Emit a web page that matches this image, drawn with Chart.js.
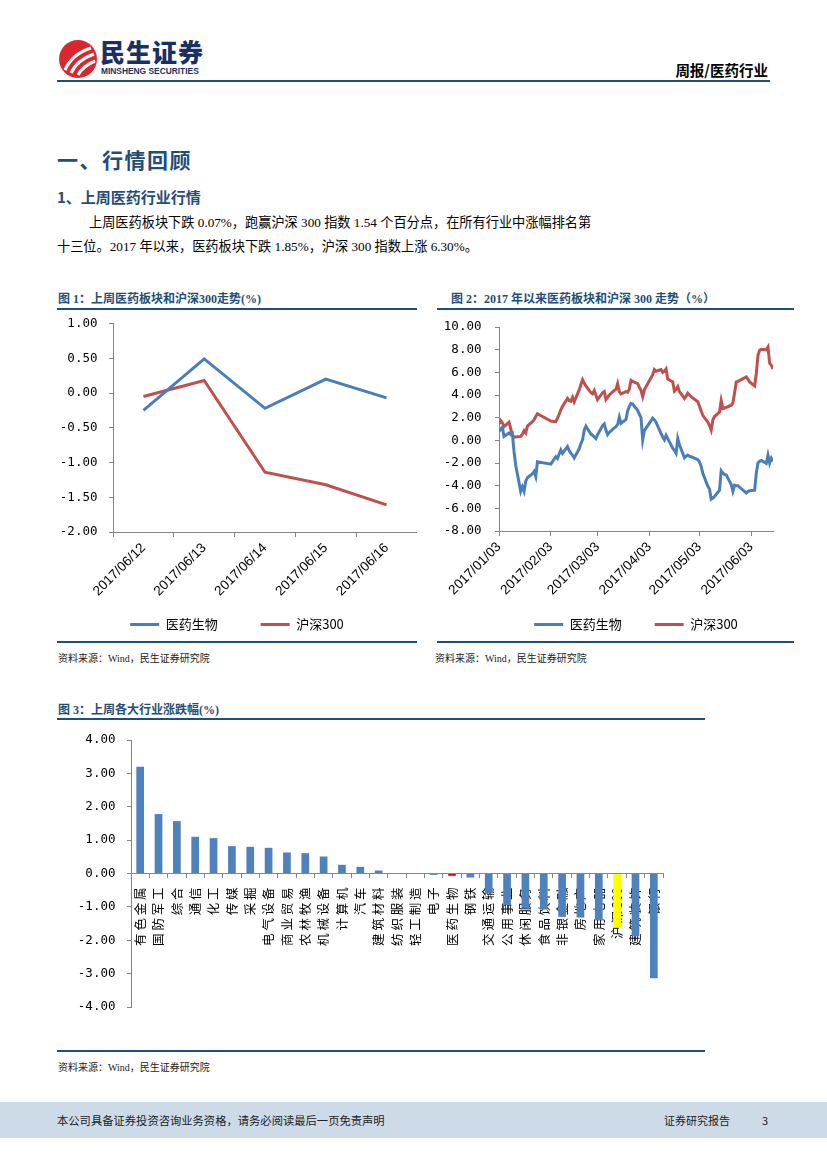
<!DOCTYPE html>
<html>
<head>
<meta charset="utf-8">
<script src="https://cdn.jsdelivr.net/npm/chart.js@4.4.1/dist/chart.umd.min.js"></script>
<style>
body { margin: 0; background: #fff; }
#page { position: relative; width: 827px; height: 1169px; overflow: hidden; background: #fff;
  font-family: 'Liberation Serif', 'Noto Sans CJK SC', serif; color: #000; }
.a { position: absolute; white-space: nowrap; }
.rule { position: absolute; background: #1f4e79; height: 1.5px; }
.ttl { font-size: 12px; font-weight: bold; color: #1f4e79; line-height: 14px; }
.src { font-size: 10px; color: #222; line-height: 12px; }
canvas { position: absolute; }
</style>
</head>
<body>
<div id="page">
  <!-- header -->
  <svg class="a" style="left:58px;top:39px" width="40" height="40" viewBox="0 0 40 40">
    <circle cx="20" cy="20" r="19" fill="#d7282f"/>
    <path d="M7 31 Q14 15 33 9" stroke="#fff" stroke-width="3.2" fill="none"/>
    <path d="M13 34 Q19 21 36 15" stroke="#fff" stroke-width="3.2" fill="none"/>
    <path d="M20 36 Q25 27 37 22" stroke="#fff" stroke-width="3" fill="none"/>
  </svg>
  <div class="a" style="left:100px;top:36px;font:900 25px 'Noto Sans CJK SC';letter-spacing:1px;color:#1b2f63;line-height:30px">民生证券</div>
  <div class="a" style="left:101px;top:66px;font:bold 8.4px 'Liberation Sans';color:#1b2f63;line-height:10px">MINSHENG SECURITIES</div>
  <div class="a" style="right:59px;top:61px;font:bold 14.5px 'Noto Sans CJK SC';line-height:18px">周报/医药行业</div>
  <div class="rule" style="left:57px;top:80px;width:713px;height:2px"></div>

  <!-- text -->
  <div class="a" style="left:57px;top:145px;font:bold 21px 'Noto Sans CJK SC';letter-spacing:1.5px;color:#1f4e79;line-height:28px">一、行情回顾</div>
  <div class="a" style="left:57px;top:187px;font:bold 15px 'Noto Sans CJK SC';color:#1f4e79;line-height:20px">1、上周医药行业行情</div>
  <div class="a" style="left:89px;top:214px;font-size:13.2px;line-height:18px">上周医药板块下跌 0.07%，跑赢沪深 300 指数 1.54 个百分点，在所有行业中涨幅排名第</div>
  <div class="a" style="left:57px;top:238px;font-size:13.2px;line-height:18px">十三位。2017 年以来，医药板块下跌 1.85%，沪深 300 指数上涨 6.30%。</div>

  <!-- chart 1 frame -->
  <div class="a ttl" style="left:58px;top:292px">图 1：上周医药板块和沪深300走势(%)</div>
  <div class="rule" style="left:57px;top:308px;width:360px"></div>
  <canvas id="c1" width="360" height="329" style="left:57px;top:312px"></canvas>
  <div class="rule" style="left:57px;top:641px;width:360px"></div>
  <div class="a src" style="left:58px;top:653px">资料来源：Wind，民生证券研究院</div>

  <!-- chart 2 frame -->
  <div class="a ttl" style="left:451px;top:292px">图 2：2017 年以来医药板块和沪深 300 走势（%）</div>
  <div class="rule" style="left:437px;top:308px;width:357px"></div>
  <canvas id="c2" width="357" height="329" style="left:437px;top:312px"></canvas>
  <div class="rule" style="left:437px;top:641px;width:357px"></div>
  <div class="a src" style="left:435px;top:653px">资料来源：Wind，民生证券研究院</div>

  <!-- chart 3 frame -->
  <div class="a ttl" style="left:58px;top:703px">图 3：上周各大行业涨跌幅(%)</div>
  <div class="rule" style="left:57px;top:718px;width:648px"></div>
  <canvas id="c3" width="648" height="326" style="left:57px;top:722px"></canvas>
  <div class="rule" style="left:57px;top:1050px;width:648px"></div>
  <div class="a src" style="left:58px;top:1062px">资料来源：Wind，民生证券研究院</div>

  <!-- footer -->
  <div class="a" style="left:0;top:1102px;width:827px;height:36px;background:#cddbe9"></div>
  <div class="a" style="left:57px;top:1112px;font:11.3px 'Noto Sans CJK SC';color:#222;line-height:16px">本公司具备证券投资咨询业务资格，请务必阅读最后一页免责声明</div>
  <div class="a" style="left:664px;top:1112px;font:11px 'Noto Sans CJK SC';color:#222;line-height:16px">证券研究报告</div>
  <div class="a" style="left:762px;top:1112px;font:11px 'Noto Sans CJK SC';color:#222;line-height:16px">3</div>
</div>

<script>
// chart 1: last week
const weekDays = ['2017/06/12', '2017/06/13', '2017/06/14', '2017/06/15', '2017/06/16'];
const weekPharma = [-0.25, 0.49, -0.22, 0.20, -0.07];
const weekHs300 = [-0.05, 0.18, -1.14, -1.32, -1.61];

// chart 2: since 2017/01/03 (trading days)
const ytdDates = [
  '2017/01/03','2017/01/04','2017/01/05','2017/01/06','2017/01/09','2017/01/10','2017/01/11','2017/01/12','2017/01/13',
  '2017/01/16','2017/01/17','2017/01/18','2017/01/19','2017/01/20','2017/01/23','2017/01/24','2017/01/25','2017/01/26',
  '2017/02/03','2017/02/06','2017/02/07','2017/02/08','2017/02/09','2017/02/10','2017/02/13','2017/02/14','2017/02/15',
  '2017/02/16','2017/02/17','2017/02/20','2017/02/21','2017/02/22','2017/02/23','2017/02/24','2017/02/27','2017/02/28',
  '2017/03/01','2017/03/02','2017/03/03','2017/03/06','2017/03/07','2017/03/08','2017/03/09','2017/03/10','2017/03/13',
  '2017/03/14','2017/03/15','2017/03/16','2017/03/17','2017/03/20','2017/03/21','2017/03/22','2017/03/23','2017/03/24',
  '2017/03/27','2017/03/28','2017/03/29','2017/03/30','2017/03/31','2017/04/05','2017/04/06','2017/04/07','2017/04/10',
  '2017/04/11','2017/04/12','2017/04/13','2017/04/14','2017/04/17','2017/04/18','2017/04/19','2017/04/20','2017/04/21',
  '2017/04/24','2017/04/25','2017/04/26','2017/04/27','2017/04/28','2017/05/02','2017/05/03','2017/05/04','2017/05/05',
  '2017/05/08','2017/05/09','2017/05/10','2017/05/11','2017/05/12','2017/05/15','2017/05/16','2017/05/17','2017/05/18',
  '2017/05/19','2017/05/22','2017/05/23','2017/05/24','2017/05/25','2017/05/26','2017/05/31','2017/06/01','2017/06/02',
  '2017/06/05','2017/06/06','2017/06/07','2017/06/08','2017/06/09','2017/06/12','2017/06/13','2017/06/14','2017/06/15',
  '2017/06/16'
];
const ytdPharma = [
  0.80, 1.00, 1.15, 0.35, 0.65, 0.50, 0.60, -1.00, -2.20,
  -4.50, -4.10, -4.50, -3.60, -3.30, -2.95, -2.75, -3.20, -1.90,
  -2.10, -1.45, -1.60, -1.20, -0.85, -1.15, -0.55, -0.90, -1.15,
  -1.30, -1.55, -0.75, -0.30, 0.05, 0.90, 1.25, 0.55, 0.45,
  0.30, 0.15, 0.50, 1.30, 1.45, 0.90, 0.50, 0.70, 1.10,
  1.20, 1.40, 2.05, 1.50, 1.85, 2.60, 3.00, 3.25, 3.20,
  2.65, 2.30, 2.00, 0.05, 0.85, 1.95, 1.80, 1.60, 0.60,
  0.30, 0.05, 0.45, 0.15, -0.70, -0.90, -1.15, 0.15, -0.40,
  -1.55, -1.40, -1.30, -1.40, -1.45, -1.70, -1.90, -2.30, -2.90,
  -4.05, -4.30, -5.20, -5.10, -4.95, -4.40, -2.70, -2.90, -3.00,
  -3.05, -3.90, -4.50, -3.95, -4.00, -4.00, -4.65, -4.50, -4.45,
  -4.40, -2.90, -2.00, -1.85, -1.78, -2.03, -1.30, -2.00, -1.58,
  -1.85
];
const ytdHs300 = [
  1.45, 1.75, 1.55, 1.20, 1.60, 1.05, 0.45, 0.30, 0.30,
  0.35, 0.55, 0.85, 0.65, 1.25, 1.65, 1.80, 2.10, 2.35,
  1.70, 1.65, 1.95, 2.30, 2.70, 3.00, 3.70, 3.50, 3.45,
  3.80, 3.40, 4.45, 4.90, 5.35, 5.05, 4.80, 4.20, 4.10,
  4.40, 4.00, 3.60, 4.20, 4.30, 3.60, 3.80, 4.00, 4.40,
  4.50, 5.00, 4.30, 4.10, 4.30, 4.25, 4.50, 5.30, 5.20,
  5.00, 4.70, 4.40, 3.85, 4.45, 5.80, 6.25, 6.10, 6.25,
  6.00, 6.10, 6.30, 5.40, 5.15, 4.35, 4.50, 4.75, 4.30,
  3.70, 3.90, 4.15, 4.00, 3.85, 3.40, 3.00, 2.60, 2.20,
  1.60, 1.30, 0.90, 1.80, 2.10, 2.50, 3.50, 2.80, 2.85,
  2.90, 3.10, 3.30, 4.20, 5.15, 5.20, 5.60, 5.40, 5.15,
  4.80, 5.90, 7.50, 7.95, 8.04, 7.99, 8.23, 6.81, 6.61,
  6.30
];
const ytdTickLabels = ['2017/01/03', '2017/02/03', '2017/03/03', '2017/04/03', '2017/05/03', '2017/06/03'];

// chart 3: industries last week
const industries = ['有色金属', '国防军工', '综合', '通信', '化工', '传媒', '采掘', '电气设备', '商业贸易', '农林牧渔',
  '机械设备', '计算机', '汽车', '建筑材料', '纺织服装', '轻工制造', '电子', '医药生物', '钢铁', '交通运输',
  '公用事业', '休闲服务', '食品饮料', '非银金融', '房地产', '家用电器', '沪深300', '建筑装饰', '银行'];
const industryChange = [3.20, 1.78, 1.57, 1.10, 1.06, 0.82, 0.80, 0.77, 0.63, 0.61,
  0.51, 0.26, 0.20, 0.09, 0.01, -0.01, -0.04, -0.07, -0.12, -0.60,
  -0.95, -1.05, -1.08, -1.30, -1.32, -1.38, -1.61, -1.88, -3.14];

const BLUE = '#4A7EBB';
const RED = '#C0504D';
const AXIS = '#868686';
const MONO = "'DejaVu Sans Mono', monospace";
const SANS = "'Liberation Sans', 'Noto Sans CJK SC', sans-serif";
const CJK = "'Noto Sans CJK SC', sans-serif";

Chart.defaults.color = '#000';
Chart.defaults.font.family = SANS;

const dayOf = s => {
  const [y, m, d] = s.split('/').map(Number);
  return (Date.UTC(y, m - 1, d) - Date.UTC(2017, 0, 3)) / 86400000;
};

const lineLegend = chart => Chart.defaults.plugins.legend.labels.generateLabels(chart)
  .map(l => Object.assign(l, { fillStyle: l.strokeStyle, lineWidth: 0 }));

const legendOpts = (fullSize, gap) => ({
  position: 'bottom',
  fullSize: fullSize,
  labels: { boxWidth: 29, boxHeight: 3, padding: gap, font: { size: 13, family: CJK }, color: '#000', generateLabels: lineLegend }
});

// rotated date labels hang below a short axis box, so don't clip them to it
const dateAxisFit = h => s => { s.height = h; s._computeLabelArea = () => null; };

const yAxis = (min, max, step, width, pad) => ({
  min: min, max: max,
  ticks: { stepSize: step, autoSkip: false, callback: v => v.toFixed(2) + ' ', font: { size: 12.5, family: MONO }, padding: pad, color: '#000' },
  grid: { drawOnChartArea: false, tickLength: 4, color: AXIS },
  border: { color: AXIS },
  afterFit: s => { s.width = width; }
});

new Chart(document.getElementById('c1'), {
  type: 'line',
  data: {
    labels: weekDays,
    datasets: [
      { label: '医药生物', data: weekPharma, borderColor: BLUE, backgroundColor: BLUE, borderWidth: 3, pointRadius: 0 },
      { label: '沪深300', data: weekHs300, borderColor: RED, backgroundColor: RED, borderWidth: 3, pointRadius: 0 }
    ]
  },
  options: {
    responsive: false,
    animation: false,
    layout: { padding: { top: 11, right: 0, left: 0, bottom: 0 } },
    plugins: { legend: legendOpts(true, 43), tooltip: { enabled: false } },
    scales: {
      x: {
        offset: true,
        grid: { offset: true, drawOnChartArea: false, tickLength: 5, color: AXIS },
        border: { color: AXIS },
        ticks: { minRotation: 45, maxRotation: 45, font: { size: 13.5 }, padding: 3, color: '#000' },
        afterFit: dateAxisFit(43)
      },
      y: yAxis(-2, 1, 0.5, 56, 4)
    }
  }
});

new Chart(document.getElementById('c2'), {
  type: 'line',
  data: {
    datasets: [
      { label: '医药生物', data: ytdDates.map((d, i) => ({ x: dayOf(d), y: ytdPharma[i] })), borderColor: BLUE, backgroundColor: BLUE, borderWidth: 3, pointRadius: 0 },
      { label: '沪深300', data: ytdDates.map((d, i) => ({ x: dayOf(d), y: ytdHs300[i] })), borderColor: RED, backgroundColor: RED, borderWidth: 3, pointRadius: 0 }
    ]
  },
  options: {
    responsive: false,
    animation: false,
    layout: { padding: { top: 15, right: 21, left: 0, bottom: 0 } },
    plugins: { legend: legendOpts(false, 33), tooltip: { enabled: false } },
    scales: {
      x: {
        type: 'linear',
        min: 0,
        max: dayOf(ytdDates[ytdDates.length - 1]),
        afterBuildTicks: s => { s.ticks = ytdTickLabels.map(t => ({ value: dayOf(t) })); },
        grid: { drawOnChartArea: false, tickLength: 5, color: AXIS },
        border: { color: AXIS },
        ticks: { autoSkip: false, minRotation: 45, maxRotation: 45, font: { size: 13.5 }, padding: 3, color: '#000',
          callback: (v, i) => ytdTickLabels[i] },
        afterFit: dateAxisFit(54)
      },
      y: yAxis(-8, 10, 2, 62, 6)
    }
  }
});

new Chart(document.getElementById('c3'), {
  type: 'bar',
  data: {
    labels: industries,
    datasets: [{
      data: industryChange,
      backgroundColor: industries.map(n => n === '医药生物' ? '#FF0000' : n === '沪深300' ? '#FFFF00' : '#4F81BD'),
      barPercentage: 0.42,
      categoryPercentage: 1
    }]
  },
  options: {
    responsive: false,
    animation: false,
    layout: { padding: { top: 18, right: 42, left: 0, bottom: 41 } },
    plugins: { legend: { display: false }, tooltip: { enabled: false } },
    scales: {
      x: {
        position: { y: 0 },
        z: 1,
        grid: { offset: true, drawOnChartArea: false, tickLength: 4, color: AXIS },
        border: { color: AXIS },
        ticks: { autoSkip: false, minRotation: 90, maxRotation: 90, padding: 10, color: '#000',
          font: { size: 12.5, family: CJK },
          callback: (v, i) => industries[i].match(/[0-9]+|./g).join(' ') }
      },
      y: yAxis(-4, 4, 1, 74, 4)
    }
  }
});
</script>
</body>
</html>
